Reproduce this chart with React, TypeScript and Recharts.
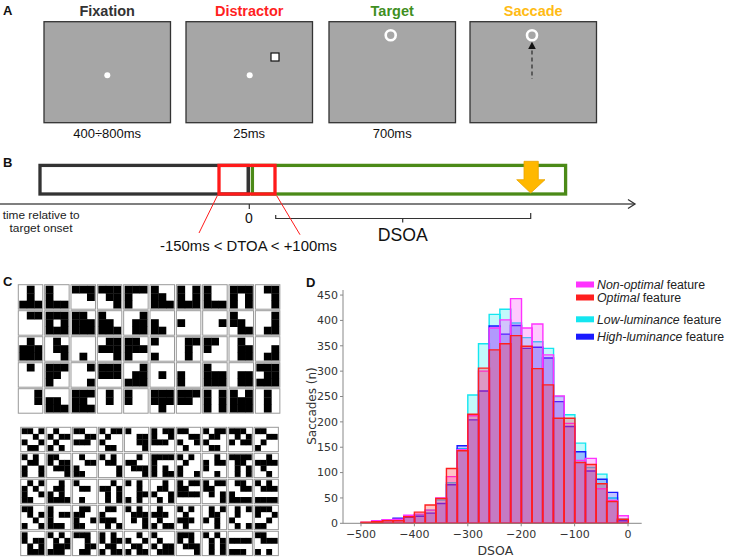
import { Bar, BarChart, Label, XAxis, YAxis } from "recharts";

// ---- panel D data: saccade counts per 20 ms DSOA bin ----
const BIN_LO = [
  -500, -480, -460, -440, -420, -400, -380, -360, -340, -320, -300, -280, -260,
  -240, -220, -200, -180, -160, -140, -120, -100, -80, -60, -40, -20,
];
const NON_OPTIMAL = [2, 5, 7, 8, 16, 18, 26, 50, 92, 145, 212, 300, 385, 401, 443, 385, 393, 332, 251, 197, 124, 128, 68, 45, 15];
const OPTIMAL = [2, 3, 5, 5, 13, 22, 36, 49, 108, 143, 215, 306, 342, 354, 370, 349, 305, 273, 207, 207, 120, 116, 78, 43, 8];
const LOW_LUM = [1, 3, 6, 8, 14, 17, 26, 46, 80, 147, 253, 354, 412, 422, 395, 366, 358, 345, 250, 214, 158, 110, 97, 50, 8];
const HIGH_LUM = [1, 3, 7, 10, 12, 14, 20, 39, 76, 153, 204, 261, 389, 373, 390, 345, 347, 326, 240, 191, 141, 103, 87, 61, 5];

const X_TICKS = [-500, -400, -300, -200, -100, 0];
const Y_TICKS = [0, 50, 100, 150, 200, 250, 300, 350, 400, 450];

// legend order (top to bottom)
const LEGEND_ITALIC = ["Non-optimal", "Optimal", "Low-luminance", "High-luminance"];
const LEGEND_COLORS = ["#ff33ff", "#ff1f1f", "#14e6f0", "#1a1aff"];

// draw order: cyan, blue, magenta, red on top
const SERIES = [
  { key: "low", color: "#14e6f0" },
  { key: "high", color: "#1a1aff" },
  { key: "nonOpt", color: "#ff33ff" },
  { key: "opt", color: "#ff1f1f" },
];

const rows = BIN_LO.map((lo, i) => ({
  bin: lo + 10,
  lo,
  nonOpt: NON_OPTIMAL[i],
  opt: OPTIMAL[i],
  low: LOW_LUM[i],
  high: HIGH_LUM[i],
}));

// ---- panel A ----
const FRAME_TITLES = ["Fixation", "Distractor", "Target", "Saccade"];
const FRAME_COLORS = ["#333333", "#ff1f1f", "#3f8f1f", "#ffbb14"];
const FRAME_TIMES = ["400÷800ms", "25ms", "700ms", ""];

// ---- panel C: feature patterns (1 = black) ----
const COARSE = [
  "010010111", "100100111", "111001000", "111011001", "111100100", "100110111", "101101111", "100100111", "111101101", "011001001",
  "011000000", "111101111", "110111111", "100110111", "001011011", "000100110", "000100000", "000001000", "100110011", "001001011",
  "010111111", "010011001", "000000010", "011111001", "110111100", "100000100", "011010010", "110100000", "010011011", "000001011",
  "010000000", "111110100", "001000001", "111111000", "001011111", "000010000", "000100100", "100111111", "000011011", "111011111",
  "001001000", "000110111", "111110111", "010010000", "100100000", "111111010", "111110000", "101101101", "101111111", "010010010",
];
const FINE = [
  "1101001010010110", "0100101101001010", "1100001111100000", "1011010010000110", "1000001100110001",
  "1011100111100000", "1100001110010100", "1011011010000110", "1110010110110000", "1100001101001000",
  "1010011010011001", "1100101101110001", "0100001110001100", "1010011000010001", "0010110001110001",
  "1111100010101011", "1010010010001001", "0010101110000010", "1111011001010101", "0010111101000010",
  "0101101010011100", "0010011010101111", "1000011000000100", "0010110101010101", "1010001000111010",
  "0010011010010101", "1011110011110000", "1011110001010001", "0110001110001111", "1010011100001111",
  "1100010100101001", "1000101110001110", "0110110010011100", "0110100011100101", "1010011101010001",
  "0100111001001011", "1010010011100100", "0101011010100010", "0101010010000101", "1110100100101100",
  "1000101101010111", "1010010101111110", "1110001000110110", "1010101101101011", "0010100101101011",
  "1000010010110111", "1110101001110001", "1010010101010101", "0000111100001110", "1100011100001010",
];

function Tile({ x, y, size, pattern, n }: { x: number; y: number; size: number; pattern: string; n: number }) {
  const inner = size - 2;
  const c = inner / n;
  return (
    <g>
      <rect x={x} y={y} width={size} height={size} fill="#fff" stroke="#999" strokeWidth={1} />
      {pattern.split("").map((v, i) =>
        v === "1" ? (
          <rect
            key={i}
            x={x + 1 + (i % n) * c}
            y={y + 1 + Math.floor(i / n) * c}
            width={c + 0.3}
            height={c + 0.3}
            fill="#000"
          />
        ) : null
      )}
    </g>
  );
}

const sans = "'Liberation Sans', Arial, sans-serif";
const dejavu = "'DejaVu Sans', sans-serif";
const tickFont = { fill: "#333", fontSize: 11, fontFamily: dejavu };
const fmtX = (v: number) => (v < 0 ? `\u2212${Math.abs(v)}` : `${v}`);

function Overlay() {
  const fx = [44, 186, 329, 470];
  const legendY = [284.5, 297.5, 319.3, 336.7];
  return (
    <svg width={736} height={560} style={{ position: "absolute", left: 0, top: 0 }} fontFamily={sans}>
      {/* A */}
      <text x={3} y={15} fontSize={13} fontWeight="bold" fill="#111">A</text>
      {FRAME_TITLES.map((t, i) => (
        <g key={t}>
          <text x={fx[i] + 63.2} y={16} fontSize={14.5} fontWeight="bold" fill={FRAME_COLORS[i]} textAnchor="middle">{t}</text>
          <rect x={fx[i]} y={21.7} width={126.5} height={101} fill="#a6a6a6" stroke="#333" strokeWidth={1.3} />
          {FRAME_TIMES[i] && (
            <text x={fx[i] + 63.2} y={138} fontSize={13} fill="#111" textAnchor="middle">{FRAME_TIMES[i]}</text>
          )}
        </g>
      ))}
      <circle cx={107.3} cy={75.3} r={3} fill="#fff" />
      <circle cx={249.7} cy={75.3} r={3} fill="#fff" />
      <rect x={271} y={53} width={8} height={8} fill="#fff" stroke="#111" strokeWidth={1.2} />
      <circle cx={390.7} cy={35.3} r={5} fill="none" stroke="#fff" strokeWidth={2.6} />
      <circle cx={532} cy={35.3} r={5} fill="none" stroke="#fff" strokeWidth={2.6} />
      <polygon points="532,41.8 535.8,49 528.2,49" fill="#111" />
      <line x1={532} y1={50.5} x2={532} y2={79} stroke="#333" strokeWidth={1.3} strokeDasharray="4 3" />

      {/* B */}
      <text x={3} y={167} fontSize={13} fontWeight="bold" fill="#111">B</text>
      <rect x={40} y={165.4} width={208.3} height={28.6} fill="#fff" stroke="#333" strokeWidth={3.3} />
      <rect x={252.4} y={165.4} width={313.2} height={28.6} fill="#fff" stroke="#4b8a17" strokeWidth={3.3} />
      <line x1={248.3} y1={165.4} x2={248.3} y2={194} stroke="#333" strokeWidth={3} />
      <rect x={219} y={165.4} width={56} height={28.6} fill="none" stroke="#ff1a1a" strokeWidth={3.3} />
      <polygon
        points="524,161.3 538.3,161.3 538.3,179.7 545,179.7 530.7,193 516.7,179.7 524,179.7"
        fill="#ffb800"
        stroke="#e8a400"
        strokeWidth={0.8}
      />
      <line x1={0} y1={204} x2={635} y2={204} stroke="#555" strokeWidth={1.3} />
      <polyline points="628,199.5 635,204 628,208.5" fill="none" stroke="#333" strokeWidth={1.3} />
      <line x1={249.3} y1={204} x2={249.3} y2={209} stroke="#333" strokeWidth={1.2} />
      <text x={249} y={223} fontSize={14} fill="#111" textAnchor="middle">0</text>
      <path d="M275.7,215 L275.7,218.5 L530.7,218.5 L530.7,213" fill="none" stroke="#333" strokeWidth={1.2} />
      <line x1={402.7} y1={218.5} x2={402.7} y2={222.5} stroke="#333" strokeWidth={1.2} />
      <text x={377.7} y={241.3} fontSize={18} fill="#111" textLength={50} lengthAdjust="spacingAndGlyphs">DSOA</text>
      <line x1={217.3} y1={195.7} x2={199} y2={233} stroke="#ff1a1a" strokeWidth={1} />
      <line x1={276.7} y1={195.7} x2={300} y2={234.7} stroke="#ff1a1a" strokeWidth={1} />
      <text x={160} y={251} fontSize={15} fill="#111" textLength={177} lengthAdjust="spacingAndGlyphs">
        -150ms &lt; DTOA &lt; +100ms
      </text>
      <text x={2.7} y={219} fontSize={11.5} fill="#222" textLength={77} lengthAdjust="spacingAndGlyphs">time relative to</text>
      <text x={9.5} y={231.8} fontSize={11.5} fill="#222" textLength={63} lengthAdjust="spacingAndGlyphs">target onset</text>

      {/* C */}
      <text x={3} y={286} fontSize={13} fontWeight="bold" fill="#111">C</text>
      {COARSE.map((p, i) => (
        <Tile key={`c${i}`} x={18.3 + (i % 10) * 26.34} y={284.7 + Math.floor(i / 10) * 26} size={24.5} pattern={p} n={3} />
      ))}
      {FINE.map((p, i) => (
        <Tile key={`f${i}`} x={20.7 + (i % 10) * 25.93} y={427.3 + Math.floor(i / 10) * 26} size={24.3} pattern={p} n={4} />
      ))}

      {/* D */}
      <text x={306} y={287} fontSize={13} fontWeight="bold" fill="#111">D</text>
      <text
        x={312}
        y={406}
        transform="rotate(-90 312 406)"
        fontSize={12}
        fontFamily={dejavu}
        fill="#333"
        textAnchor="middle"
        dominantBaseline="central"
      >
        Saccades (n)
      </text>
      {LEGEND_ITALIC.map((t, i) => (
        <g key={t}>
          <rect x={576} y={legendY[i] - 3} width={18} height={6} fill={LEGEND_COLORS[i]} />
          <text x={597} y={legendY[i] + 4.3} fontSize={12.3} fill="#222">
            <tspan fontStyle="italic">{t}</tspan> feature
          </text>
        </g>
      ))}
    </svg>
  );
}

export default function App() {
  return (
    <div style={{ position: "absolute", left: 0, top: 0, width: 736, height: 560, background: "#fff" }}>
      <Overlay />
      <div style={{ position: "absolute", left: 290, top: 270 }}>
        <BarChart
          width={446}
          height={290}
          data={rows}
          margin={{ top: 20, right: 94.3, bottom: 0.7, left: 13 }}
          barCategoryGap={0}
          barGap={0}
        >
          {SERIES.map((s) => (
            <XAxis
              key={s.key}
              xAxisId={s.key}
              dataKey="bin"
              orientation="top"
              hide
              padding={{ left: 18, right: 13.7 }}
            />
          ))}
          <XAxis
            xAxisId="num"
            type="number"
            dataKey="lo"
            domain={[-533.7, 25.6]}
            allowDataOverflow
            ticks={X_TICKS}
            height={36}
            tickSize={3}
            tickMargin={4}
            stroke="#888"
            tick={tickFont}
            tickFormatter={fmtX}
          >
            <Label value="DSOA" position="insideBottom" offset={4} dx={3} style={{ fill: "#333", fontSize: 12.5, fontFamily: dejavu }} />
          </XAxis>
          <YAxis
            domain={[0, 460]}
            ticks={Y_TICKS}
            width={40}
            tickSize={3}
            tickMargin={2}
            stroke="#888"
            tick={tickFont}
          />
          {SERIES.map((s) => (
            <Bar
              key={s.key}
              xAxisId={s.key}
              dataKey={s.key}
              fill={s.color}
              fillOpacity={0.26}
              stroke={s.color}
              strokeWidth={1.4}
              isAnimationActive={false}
            />
          ))}
        </BarChart>
      </div>
    </div>
  );
}
